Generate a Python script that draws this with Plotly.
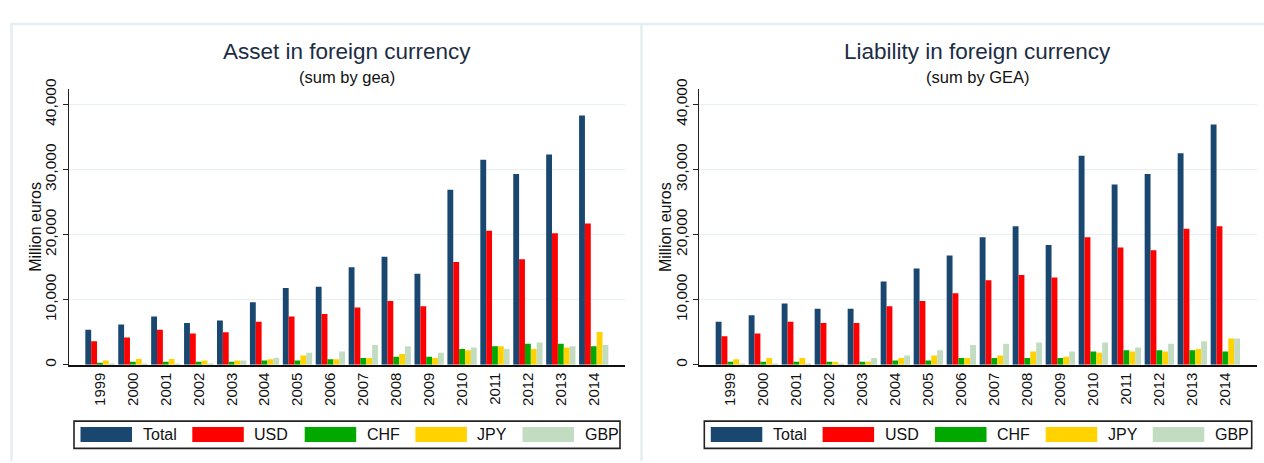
import plotly.graph_objects as go

W, H = 1264, 463

years = [str(y) for y in range(1999, 2015)]
series = ["Total", "USD", "CHF", "JPY", "GBP"]
colors = ["#1a476f", "#ff0000", "#00a800", "#ffd200", "#c2dcc2"]

asset_total = [5400, 6200, 7400, 6400, 6800, 9600, 11800, 12000, 15000, 16600, 14000, 26900, 31500, 29300, 32300, 38300]
asset_usd = [3600, 4200, 5400, 4800, 5000, 6600, 7400, 7800, 8800, 9800, 9000, 15800, 20600, 16200, 20200, 21700]
asset_chf = [300, 450, 450, 450, 450, 640, 640, 860, 1050, 1240, 1240, 2440, 2840, 3230, 3230, 2840]
asset_jpy = [640, 900, 900, 640, 640, 860, 1440, 860, 1050, 1640, 1050, 2240, 2840, 2440, 2640, 5020]
asset_gbp = [60, 80, 80, 80, 640, 1050, 1850, 2040, 3040, 2840, 1840, 2640, 2440, 3430, 2840, 3040]

liab_total = [6600, 7600, 9400, 8600, 8600, 12800, 14800, 16800, 19600, 21300, 18400, 32100, 27700, 29300, 32500, 36900]
liab_usd = [4400, 4800, 6600, 6400, 6400, 9000, 9800, 11000, 13000, 13800, 13400, 19600, 18000, 17600, 20900, 21300]
liab_chf = [450, 450, 450, 450, 450, 640, 640, 1050, 1050, 1050, 1050, 2040, 2240, 2240, 2240, 2040]
liab_jpy = [860, 1050, 1050, 450, 450, 1050, 1440, 1050, 1440, 2040, 1240, 1840, 2040, 2040, 2440, 4030]
liab_gbp = [60, 80, 80, 80, 1050, 1440, 2240, 3040, 3230, 3430, 2040, 3430, 2640, 3230, 3630, 4030]

panel_titles = ["Asset in foreign currency", "Liability in foreign currency"]
panel_subtitles = ["(sum by gea)", "(sum by GEA)"]
y_title = "Million euros"
y_ticks = [0, 10000, 20000, 30000, 40000]

panels = [
    [asset_total, asset_usd, asset_chf, asset_jpy, asset_gbp],
    [liab_total, liab_usd, liab_chf, liab_jpy, liab_gbp],
]

FONT = "Arial, Liberation Sans, sans-serif"

def px(x):
    return x / W

def py(y):
    return 1 - y / H

# plot areas in pixels
plot_x = [(68.7, 625.0), (699.0, 1256.7)]
plot_top, plot_bottom = 80.7, 364.0

fig = go.Figure()
for p, vals in enumerate(panels):
    ax = "" if p == 0 else "2"
    for name, col, v in zip(series, colors, vals):
        fig.add_trace(go.Bar(
            x=years, y=v, name=name, marker=dict(color=col, line=dict(width=0)),
            xaxis="x" + ax, yaxis="y" + ax, showlegend=False,
        ))

shapes = []
annotations = []

# outer frame lines (graph region borders)
frame_col = "#e4eef1"
shapes.append(dict(type="line", xref="paper", yref="paper", x0=px(10), x1=px(1264), y0=py(13.5), y1=py(13.5), line=dict(color=frame_col, width=2.5)))
shapes.append(dict(type="line", xref="paper", yref="paper", x0=px(11.5), x1=px(11.5), y0=py(13.5), y1=py(463), line=dict(color=frame_col, width=2.5)))
shapes.append(dict(type="line", xref="paper", yref="paper", x0=px(641.5), x1=px(641.5), y0=py(13.5), y1=py(463), line=dict(color=frame_col, width=2.5)))

layout_axes = {}
for p in range(2):
    ax = "" if p == 0 else "2"
    x0, x1 = plot_x[p]
    layout_axes["xaxis" + ax] = dict(
        domain=[px(x0), px(x1)], anchor="y" + ax, type="category",
        range=[-0.95, 15.95], showline=True, linecolor="#111", linewidth=1.6,
        ticks="", tickangle=-90, showgrid=False, zeroline=False,
        tickfont=dict(family=FONT, size=15, color="#111"),
    )
    layout_axes["yaxis" + ax] = dict(
        domain=[py(plot_bottom), py(plot_top)], anchor="x" + ax,
        range=[0, 42300], tickvals=y_ticks, tickformat=",",
        showline=True, linecolor="#222", linewidth=1.4,
        ticks="outside", ticklen=5, tickwidth=1.2, tickcolor="#222",
        tickangle=-90, showgrid=True, gridcolor="#e6eff2", gridwidth=1,
        zeroline=False, tickfont=dict(family=FONT, size=15.5, color="#111"),
    )
    cx = (x0 + x1) / 2
    annotations.append(dict(text=panel_titles[p], x=px(cx), y=py(42), xref="paper", yref="paper",
                            showarrow=False, xanchor="center", yanchor="middle",
                            font=dict(family=FONT, size=22.5, color="#1c2d44")))
    annotations.append(dict(text=panel_subtitles[p], x=px(cx), y=py(68), xref="paper", yref="paper",
                            showarrow=False, xanchor="center", yanchor="middle",
                            font=dict(family=FONT, size=16.5, color="#111")))
    annotations.append(dict(text=y_title, x=px(x0 - 34), y=py((plot_top + plot_bottom) / 2),
                            xref="paper", yref="paper", showarrow=False, textangle=-90,
                            xanchor="center", yanchor="middle",
                            font=dict(family=FONT, size=16, color="#111")))
    # legend box
    bx0, bx1 = x0 + 5.3, x1 - 5
    shapes.append(dict(type="rect", xref="paper", yref="paper", x0=px(bx0), x1=px(bx1),
                       y0=py(450), y1=py(422), line=dict(color="#222", width=1.6), fillcolor="white"))
    offsets = [6.5, 118.3, 230.7, 341.4, 448.5]
    for name, col, off in zip(series, colors, offsets):
        sx = bx0 + off
        shapes.append(dict(type="rect", xref="paper", yref="paper", x0=px(sx), x1=px(sx + 51.5),
                           y0=py(443.5), y1=py(428), line=dict(width=0), fillcolor=col))
        annotations.append(dict(text=name, x=px(sx + 60), y=py(436), xref="paper", yref="paper",
                                showarrow=False, xanchor="left", yanchor="middle",
                                font=dict(family=FONT, size=16, color="#111")))

fig.update_layout(
    autosize=True, margin=dict(l=0, r=0, t=0, b=0),
    paper_bgcolor="white", plot_bgcolor="white",
    barmode="group", bargap=0.11, bargroupgap=0,
    shapes=shapes, annotations=annotations, showlegend=False,
    **layout_axes,
)

fig.write_html(
    "out.html",
    default_width="100vw",
    default_height="100vh",
    config={"displayModeBar": False, "responsive": True},
    post_script=(
        "document.documentElement.style.margin='0';"
        "document.documentElement.style.overflow='hidden';"
        "document.body.style.margin='0';document.body.style.padding='0';"
        "document.body.style.overflow='hidden';"
        "var d=document.getElementById('{plot_id}');"
        "d.style.position='fixed';d.style.left='0px';d.style.top='0px';"
        "Plotly.Plots.resize(d);"
    ),
)
